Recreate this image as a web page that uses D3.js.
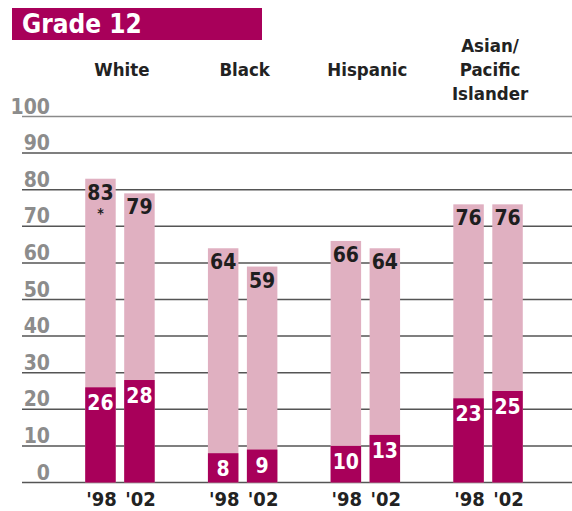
<!DOCTYPE html>
<html>
<head>
<meta charset="utf-8">
<script src="https://cdn.jsdelivr.net/npm/d3@7"></script>
<style>
  body { margin: 0; background: #fff; }
  svg text { font-family: "DejaVu Sans Condensed", "DejaVu Sans", sans-serif; font-weight: bold; }
</style>
</head>
<body>
<div id="chart"></div>
<script>
// data
var groups = ["White", "Black", "Hispanic", "Asian/Pacific Islander"]
var groupLines = [["White"], ["Black"], ["Hispanic"], ["Asian/", "Pacific", "Islander"]]
var years = ["'98", "'02"]
var totalValues = [[83, 79], [64, 59], [66, 64], [76, 76]]
var darkValues = [[26, 28], [8, 9], [10, 13], [23, 25]]
var yTicks = [0, 10, 20, 30, 40, 50, 60, 70, 80, 90, 100]
var starred = [[true, false], [false, false], [false, false], [false, false]]

var width = 572, height = 511
var dark = "#a8005a", light = "#e0b0c1"

const svg = d3.select("#chart").append("svg")
    .attr("width", width)
    .attr("height", height)

// title box
svg.append("rect")
    .attr("x", 12).attr("y", 8)
    .attr("width", 250).attr("height", 32)
    .attr("fill", dark)
svg.append("text")
    .attr("x", 22).attr("y", 33)
    .attr("fill", "#fff")
    .attr("font-size", 26)
    .text("Grade 12")

var y = d3.scaleLinear().domain([0, 100]).range([482.5, 116.5])
var x0 = d3.scaleBand().domain(groups).range([58.6, 549.4]).paddingInner(0.434).paddingOuter(0.217)
var x1 = d3.scaleBand().domain(years).range([0, x0.bandwidth()]).paddingInner(0.218).paddingOuter(0)

// gridlines + tick labels
const grid = svg.append("g")
grid.selectAll("line")
  .data(yTicks)
  .join("line")
    .attr("x1", 22).attr("x2", width)
    .attr("y1", d => y(d)).attr("y2", d => y(d))
    .attr("stroke", d => d == 100 ? "#8a8a8a" : "#555")
    .attr("stroke-width", 1.5)
grid.selectAll("text")
  .data(yTicks)
  .join("text")
    .attr("x", 50).attr("y", d => y(d) - 3)
    .attr("text-anchor", "end")
    .attr("fill", "#8c8c8c")
    .attr("font-size", 21)
    .text(d => d)

// group headers
const head = svg.append("g").attr("text-anchor", "middle").attr("fill", "#222").attr("font-size", 18.5)
groups.forEach((g, i) => {
  var lines = groupLines[i]
  var cx = x0(g) + x0.bandwidth() / 2 + 2
  lines.forEach((t, j) => {
    head.append("text")
      .attr("x", cx)
      .attr("y", 76 - (lines.length - 1 - j) * 24 + (lines.length > 1 ? 24 : 0))
      .text(t)
  })
})

// bars
var rows = []
groups.forEach((g, i) => years.forEach((yr, j) => rows.push({
  group: g, year: yr, total: totalValues[i][j], dark: darkValues[i][j], star: starred[i][j]
})))

const bars = svg.append("g")
const cell = bars.selectAll("g")
  .data(rows)
  .join("g")
    .attr("transform", d => "translate(" + (x0(d.group) + x1(d.year)) + ",0)")

cell.append("rect")
    .attr("y", d => y(d.total))
    .attr("width", x1.bandwidth())
    .attr("height", d => y(0) - y(d.total))
    .attr("fill", light)
cell.append("rect")
    .attr("y", d => y(d.dark))
    .attr("width", x1.bandwidth())
    .attr("height", d => y(0) - y(d.dark))
    .attr("fill", dark)

cell.append("text")
    .attr("x", x1.bandwidth() / 2)
    .attr("y", d => y(d.total) + 21)
    .attr("text-anchor", "middle")
    .attr("fill", "#1e1e1e")
    .attr("font-size", 21)
    .text(d => d.total)
cell.filter(d => d.star).append("text")
    .attr("x", x1.bandwidth() / 2)
    .attr("y", d => y(d.total) + 39)
    .attr("text-anchor", "middle")
    .attr("fill", "#1e1e1e")
    .attr("font-size", 14)
    .text("*")
cell.append("text")
    .attr("x", x1.bandwidth() / 2)
    .attr("y", d => y(d.dark) + 23)
    .attr("text-anchor", "middle")
    .attr("fill", "#fff")
    .attr("font-size", 21)
    .text(d => d.dark)

// year labels
cell.append("text")
    .attr("x", x1.bandwidth() / 2 + 1)
    .attr("y", 506)
    .attr("text-anchor", "middle")
    .attr("fill", "#222")
    .attr("font-size", 20)
    .text(d => d.year)
</script>
</body>
</html>
